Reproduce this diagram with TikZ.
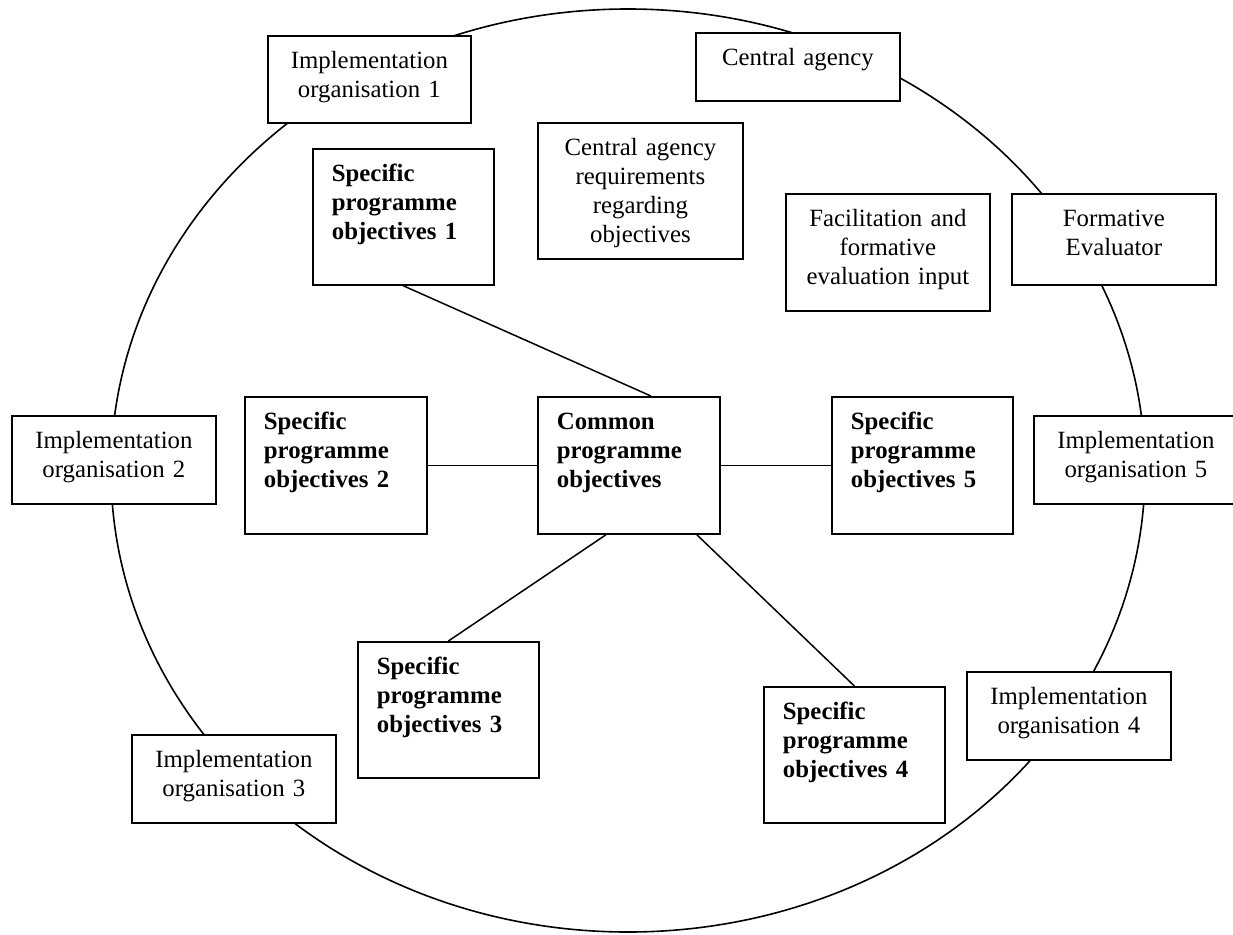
\documentclass[tikz,border=0pt]{standalone}
\usepackage{fontspec}
\setmainfont{Liberation Serif}
\tikzset{
  x = 1pt, % one unit = one pixel of the sketch
  y = -1pt, % y runs downwards
  orgbox/.style 2 args = { % framed box: #1 = width, #2 = height
    draw,
    fill = white, % hide the ring behind it
    line width = 1.8pt,
    anchor = north west, % placed by its top left corner
    inner xsep = 0pt,
    inner ysep = 0pt,
    text width = #1pt,
    text height = 33pt, % first baseline below the top edge
    text depth = #2pt-33pt, % rest of the box
    align = center,
    font = \fontsize{24.8}{29}\selectfont,
  },
  aimbox/.style 2 args = { % bold objectives box
    orgbox = {#1}{#2},
    inner xsep = 19pt, % left indent of the text
    text width = #1pt-38pt,
    align = left,
    font = \fontsize{24.8}{29}\selectfont\bfseries,
  },
  rim/.style = {line width = 1.6pt}, % the big ellipse
  joint/.style = {line width = 1.5pt}, % connector lines
}

\begin{document}
\begin{tikzpicture}
  \useasboundingbox (0,0) rectangle (1233,934); % size of the sketch
  \coordinate (ring) at (628,470.5); % centre of the big ellipse
  \draw[rim] (ring) ellipse [x radius=517pt, y radius=461.5pt];
  % boxes on and inside the ring
  \node[orgbox={203}{87}] (io1) at (267,35) {Implementation\\organisation 1};
  \node[orgbox={204}{68}] (agency) at (695,32) {Central agency};
  \node[orgbox={205}{136}] (reqs) at (537,122) {Central agency\\requirements\\regarding\\objectives};
  \node[orgbox={204}{117}] (facil) at (785,193) {Facilitation and\\formative\\evaluation input};
  \node[orgbox={204}{91}] (evaluator) at (1011,193) {Formative\\Evaluator};
  \foreach \i/\x/\y in {2/11/415, 5/1033/415, 4/966/671, 3/131/734}{ % other organisations
    \node[orgbox={204}{88}] (io\i) at (\x,\y) {Implementation\\organisation \i};
  }
  % objectives
  \node[aimbox={182}{137}] (cpo) at (537,396) {Common\\programme\\objectives};
  \node[aimbox={181}{136}] (spo1) at (312,148) {Specific\\programme\\objectives 1};
  \node[aimbox={182}{137}] (spo2) at (244,396) {Specific\\programme\\objectives 2};
  \node[aimbox={181}{136}] (spo3) at (357,641) {Specific\\programme\\objectives 3};
  \node[aimbox={181}{136}] (spo4) at (763,686) {Specific\\programme\\objectives 4};
  \node[aimbox={181}{137}] (spo5) at (831,396) {Specific\\programme\\objectives 5};
  % connectors to the common objectives
  \draw[joint] (spo1.south) -- ([xshift=22pt]cpo.north);
  \draw[joint] (spo2.east) -- (cpo.west);
  \draw[joint] (cpo.east) -- (spo5.west);
  \draw[joint] ([xshift=-23pt]cpo.south) -- (spo3.north);
  \draw[joint] ([xshift=68pt]cpo.south) -- (spo4.north);
\end{tikzpicture}
\end{document}
